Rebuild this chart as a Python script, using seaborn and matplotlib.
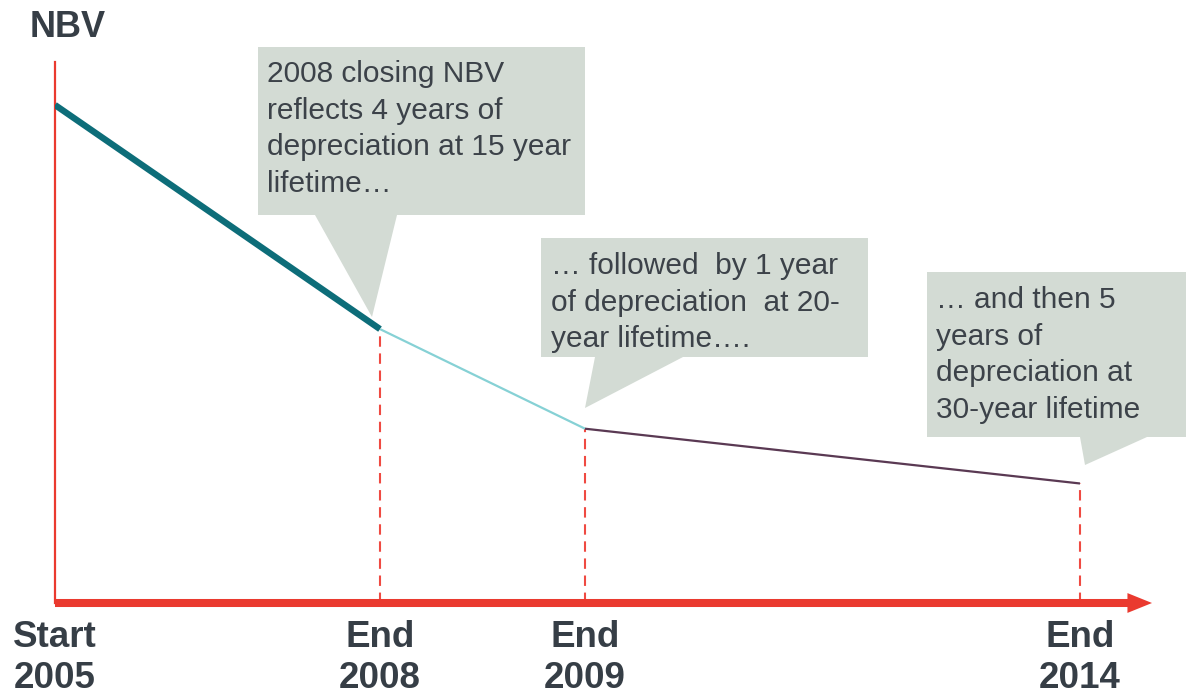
import matplotlib
matplotlib.use("Agg")
import matplotlib.pyplot as plt
import matplotlib.patches as mpatches
import matplotlib.transforms as mtransforms
import seaborn as sns
import pandas as pd

# ---- data ----
periods = ["Start\n2005", "End\n2008", "End\n2009", "End\n2014"]
nbv = [100, 55, 35, 24]
segment_names = ["15-year lifetime", "20-year lifetime", "30-year lifetime"]
callouts = [
    "2008 closing NBV\nreflects 4 years of\ndepreciation at 15 year\nlifetime…",
    "… followed  by 1 year\nof depreciation  at 20-\nyear lifetime….",
    "… and then 5\nyears of\ndepreciation at\n30-year lifetime",
]
y_label = "NBV"

# ---- layout (not data) ----
W, H = 1186, 700
x_pos = [0, 325, 530, 1025]          # horizontal placement of the periods
seg_colors = ["#0d6d79", "#86d1d5", "#5a3953"]
seg_widths = [4.6, 1.6, 1.6]
red = "#ea3a2f"
dash_red = "#ef4a42"
box_col = "#d3dbd4"
text_col = "#3c4249"

sns.set_style("white")
plt.rcParams["font.family"] = ["Liberation Sans", "DejaVu Sans"]

fig = plt.figure(figsize=(W / 100, H / 100), dpi=100)
# pixel transform (origin top-left)
pix = mtransforms.Affine2D().scale(1 / W, -1 / H).translate(0, 1) + fig.transFigure

ax_left, ax_right, ax_top, ax_bottom = 55, 1152, 62, 603
ax = fig.add_axes([ax_left / W, (H - ax_bottom) / H,
                   (ax_right - ax_left) / W, (ax_bottom - ax_top) / H])
ax.set_xlim(0, ax_right - ax_left)
ax.set_ylim(0, (ax_bottom - ax_top) / 4.98)

df = pd.DataFrame({"x": x_pos, "nbv": nbv, "period": periods})
for i, name in enumerate(segment_names):
    seg = df.iloc[i:i + 2]
    sns.lineplot(data=seg, x="x", y="nbv", ax=ax, color=seg_colors[i],
                 lw=seg_widths[i], sort=False, estimator=None,
                 solid_capstyle="butt", zorder=4)

# dashed drop lines
ax.vlines(x_pos[1:], 0, nbv[1:], colors=dash_red, linestyles=(0, (5, 3.2)),
          lw=1.5, zorder=3)

# axes styling
for s in ["top", "right", "bottom"]:
    ax.spines[s].set_visible(False)
ax.spines["left"].set_color(red)
ax.spines["left"].set_linewidth(1.6)
ax.set_yticks([])
ax.set_xticks(x_pos)
ax.set_xticklabels(periods, fontsize=26.5, fontweight="bold", color="#363e46",
                   linespacing=1.24)
ax.tick_params(axis="x", length=0, pad=12)
ax.set_xlabel("")
ax.set_ylabel("")

# x axis arrow
ax.annotate("", xy=(1, 0), xytext=(0, 0), xycoords="axes fraction",
            textcoords="axes fraction",
            arrowprops=dict(arrowstyle="simple,head_length=0.52,head_width=0.42,tail_width=0.17",
                            mutation_scale=34, color=red, lw=0,
                            shrinkA=0, shrinkB=0),
            annotation_clip=False, zorder=5)

# NBV label
fig.text(30 / W, 1 - 37 / H, y_label, fontsize=26, fontweight="bold",
         color="#363e46", ha="left", va="baseline")

# callouts
boxes = [
    dict(rect=(258, 47, 585, 215), ptr=((397, 215), (372, 317), (315, 215)), txt=(267, 60)),
    dict(rect=(541, 238, 868, 357), ptr=((683, 357), (585, 408), (595, 357)), txt=(551, 252)),
    dict(rect=(927, 272, 1186, 437), ptr=((1147, 437), (1085, 465), (1080, 437)), txt=(936, 286)),
]
for b, t in zip(boxes, callouts):
    x0, y0, x1, y1 = b["rect"]
    verts = [(x0, y0), (x1, y0), (x1, y1)] + list(b["ptr"]) + [(x0, y1)]
    fig.patches.append(mpatches.Polygon(verts, closed=True, transform=pix,
                                        facecolor=box_col, edgecolor="none",
                                        zorder=1))
    tx, ty = b["txt"]
    fig.text(tx / W, 1 - ty / H, t, fontsize=21.5, color=text_col,
             ha="left", va="top", linespacing=1.39, zorder=2)

fig.savefig("out.png", dpi=100)
